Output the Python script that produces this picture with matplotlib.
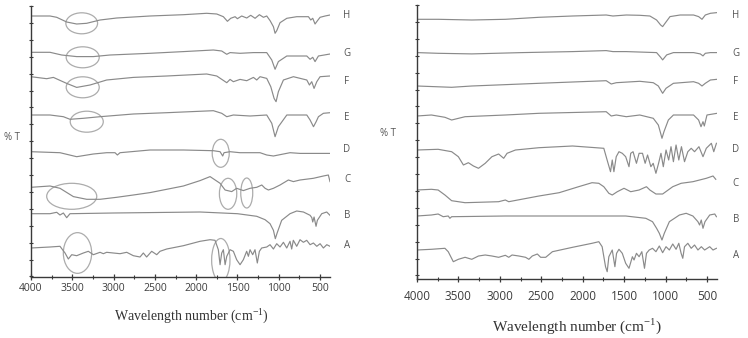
import numpy as np
import matplotlib
matplotlib.use("Agg")
import matplotlib.pyplot as plt
from matplotlib.patches import Ellipse
from matplotlib.ticker import MultipleLocator, FixedLocator

plt.rcParams['font.family'] = ['Open Sans', 'DejaVu Sans']
plt.rcParams['mathtext.fontset'] = 'custom'
plt.rcParams['mathtext.rm'] = 'Liberation Serif'

# ---------------- data: (wavenumber cm-1, relative transmittance) ----------------
labels = ["A", "B", "C", "D", "E", "F", "G", "H"]
x_ticks = [4000, 3500, 3000, 2500, 2000, 1500, 1000, 500]

# left panel
L_H = [(4000, 0), (3770, 0), (3689, -1.3), (3568, -6), (3447, -8), (3326, -7.3), (3164, -4), (2962, -2),
       (2559, 0), (2155, 1.3), (1873, 2.7), (1751, 2), (1671, -0.7), (1622, -5.3), (1582, -2.3), (1529, -0.7),
       (1501, -2.7), (1449, 0), (1388, -2), (1340, 0.7), (1287, -2.3), (1235, 1.3), (1186, -1.3), (1146, 0),
       (1105, -4.7), (1065, -10.7), (1045, -17.3), (1025, -14.7), (985, -6.7), (903, -2.3), (783, -0.7),
       (641, -0.7), (613, -4), (589, -2.3), (561, -8), (532, -4.7), (500, -1.3), (439, 0), (380, 1)]
L_G = [(4000, 0), (3770, 0), (3629, -2.7), (3447, -4.3), (3245, -4.3), (3043, -2.7), (2559, -1), (2155, 0.7),
       (1792, 2.3), (1691, 1.3), (1630, -2), (1590, -0.3), (1469, -1), (1307, -0.3), (1146, -0.3), (1085, -7.7),
       (1045, -17), (1005, -9.3), (903, -3.7), (661, -3.7), (621, -7), (589, -5), (561, -9.3), (520, -3.7),
       (380, -1.7)]
L_F = [(4000, 0), (3810, -2), (3729, -0.7), (3568, -6.7), (3447, -10.7), (3285, -8.3), (3084, -3.3),
       (2761, -0.7), (2357, 0.7), (1873, 2.7), (1751, 0.7), (1630, -6), (1590, -2.7), (1550, -5), (1469, -2.7),
       (1388, -4), (1307, -0.7), (1267, -3.3), (1227, 0), (1146, -1.7), (1097, -10), (1057, -21.7), (1033, -25),
       (1005, -15), (944, -3.3), (823, 0), (661, -3.3), (629, -8.3), (601, -5), (573, -11.7), (540, -5),
       (500, 0), (380, 0.7)]
L_E = [(4000, 0), (3770, 0), (3608, -1.7), (3528, -4.3), (3366, -3.3), (3164, -1.7), (2761, 1), (2357, 2.3),
       (1792, 4.3), (1691, 1.7), (1630, -1.7), (1550, 0), (1348, -1), (1146, 0), (1085, -8.3), (1045, -21.7),
       (1005, -11.7), (903, 0), (661, 0), (621, -5), (580, -11.7), (548, -6.7), (520, -1.7), (460, 1.7),
       (380, 2.3)]
L_D = [(4000, 0), (3649, -1), (3447, -5), (3245, -2.3), (3084, -1), (2983, -1), (2954, -3.3), (2922, -1),
       (2559, 1.7), (2155, 1.7), (1792, 1), (1711, 0), (1679, -4.3), (1663, -1), (1590, 0), (1469, -1),
       (1227, -1), (1146, -3.3), (1065, -4.3), (944, -2.3), (864, -1), (742, -1.7), (380, -1.7)]
L_C = [(4000, 0), (3770, 1.3), (3649, -1), (3487, -9.3), (3326, -12), (3164, -12), (2962, -10), (2761, -7.7),
       (2559, -5.3), (2357, -2), (2155, 1.3), (1953, 6.7), (1832, 10.7), (1711, 4), (1650, -2.7), (1570, -4.3),
       (1510, -1), (1429, -3.3), (1348, -1), (1267, 0), (1206, 2.3), (1166, -1), (1126, -2.7), (1065, -1),
       (985, 2.3), (884, 7.3), (823, 5.7), (743, 7.3), (581, 9), (460, 11.3), (400, 12.3), (380, 5.7)]
L_B = [(4000, -0.7), (3770, -0.7), (3689, 0.7), (3649, -2), (3608, 0), (3568, -4.7), (3528, -0.7), (3000, 0),
       (1953, 1), (1500, -0.7), (1267, -3.3), (1166, -6.7), (1106, -10.7), (1065, -17.3), (1042, -25.7),
       (1020, -20), (965, -7.3), (864, -0.7), (783, 2), (702, 1), (621, -2.3), (600, -4.7), (589, -9),
       (573, -4), (549, -13.3), (533, -7.3), (480, -0.7), (420, 1), (380, -2.3)]
L_A = [(4000, 0), (3770, 1), (3649, 1.7), (3588, -5), (3548, -11), (3507, -6.7), (3447, -7.7), (3366, -5),
       (3306, -3.3), (3245, -6.7), (3164, -4.3), (3124, -5.7), (3084, -4.3), (3003, -5), (2922, -5.7),
       (2841, -4.3), (2761, -7.7), (2680, -9), (2640, -5), (2600, -9), (2539, -3.3), (2478, -6.7), (2438, -3.3),
       (2357, -1), (2155, 2.3), (1953, 6.7), (1832, 8.3), (1772, 7.7), (1732, -1.7), (1711, -16.7), (1691, -5),
       (1671, -1.7), (1650, -16.7), (1630, -8.3), (1590, -1.7), (1550, -3.3), (1510, -11.7), (1469, -16.7),
       (1429, -11.7), (1389, -3.3), (1368, -8.3), (1348, -1.7), (1316, -6.7), (1288, -1.7), (1260, -15),
       (1235, -3.3), (1207, 0), (1146, 1), (1106, 3.3), (1065, -1), (1025, 4.3), (985, 1), (944, 5.7), (904, 0),
       (864, 6.7), (844, -1), (824, 7.7), (783, 1.7), (743, 8.3), (702, 5.7), (662, 7.7), (621, 3.3), (581, 5),
       (540, 1.7), (500, 4.3), (460, 0), (419, 3.3), (380, 1.7)]

# right panel
R_H = [(4000, 0), (3745, 0), (3339, -0.7), (2934, 0), (2528, 2), (2123, 3.3), (1717, 4.3), (1636, 3.3),
       (1474, 4.3), (1312, 4), (1190, 3.3), (1109, -0.7), (1060, -5.7), (1036, -7.3), (1007, -4), (947, 2.7),
       (825, 4.3), (663, 4.3), (602, 2.7), (561, 0), (521, 4.3), (460, 6), (379, 6.7)]
R_G = [(4000, 0), (3745, -0.7), (3339, -1.3), (2731, 0), (2123, 1), (1717, 2), (1636, 1), (1474, 1),
       (1109, 0), (1060, -4.7), (1036, -7.3), (987, -2.3), (906, 0), (663, 0), (582, -1.3), (549, -3.3),
       (521, -0.7), (460, 0), (379, 0)]
R_F = [(4000, 0), (3582, -1.3), (3339, 0), (2528, 2.7), (1717, 5.3), (1656, 2), (1595, 3.3), (1312, 4.7),
       (1149, 3.3), (1088, 0), (1060, -4), (1036, -7.3), (995, -2.3), (906, 2.7), (663, 4.3), (602, 2.7),
       (561, 0), (521, 2.7), (460, 6), (379, 6.7)]
R_E = [(4000, 0), (3826, 1), (3663, -1.3), (3582, -4), (3420, -0.7), (2934, 1), (2528, 2.7), (1717, 4.3),
       (1656, 0), (1595, 1), (1474, -0.7), (1312, 1), (1149, -2.3), (1088, -9), (1060, -17.3), (1044, -22.3),
       (1020, -15.7), (967, -4), (906, 1), (663, 1), (602, -4), (573, -10.7), (549, -5.7), (533, -10),
       (501, 1), (379, 2.7)]
R_D = [(4000, 0), (3745, 0.7), (3582, -1.7), (3501, -6.7), (3440, -15), (3380, -12.7), (3319, -16),
       (3258, -18.3), (3177, -13.3), (3096, -6.7), (3015, -4), (2954, -8.3), (2913, -3.3), (2812, 0),
       (2528, 2.3), (2123, 4), (1746, 1.7), (1706, -10), (1665, -21.7), (1644, -10), (1624, -21.7),
       (1596, -6.7), (1563, -1.7), (1523, -3.3), (1482, -6.7), (1442, -16.7), (1421, -3.3), (1393, -1.7),
       (1352, -13.3), (1320, -3.3), (1279, -3.3), (1247, -13.3), (1218, -5), (1178, -16.7), (1150, -13.3),
       (1117, -23.3), (1085, -13.3), (1056, -3.3), (1028, -16.7), (995, 0), (963, -10), (935, 3.3),
       (906, -11.7), (874, 5), (841, -10), (809, 3.3), (772, -11.7), (732, -1.7), (691, 1.7), (651, -1.7),
       (598, 3.3), (549, -6.7), (509, 1.7), (448, 6.7), (419, -1.7), (387, 6.7)]
R_C = [(4000, 0), (3826, 0.7), (3745, 0), (3663, -5), (3582, -10.7), (3420, -12.7), (3015, -11.7),
       (2934, -10), (2893, -11.7), (2528, -6), (2285, -2.7), (2050, 3.3), (1888, 7.3), (1806, 6.7),
       (1746, 3.3), (1685, -3.3), (1644, -5), (1583, -1.7), (1502, 1.7), (1421, -1.7), (1320, 0), (1231, 3.3),
       (1190, 0), (1117, -4), (1036, -4), (914, 3.3), (813, 6.7), (671, 8.3), (509, 11.7), (428, 14),
       (395, 10.7)]
R_B = [(4000, 0), (3826, 1), (3745, 2), (3684, -0.7), (3623, 0), (3603, -2.3), (3582, -0.7), (2934, 0),
       (2123, 0), (1482, 0), (1239, -2.3), (1158, -5.7), (1109, -12.3), (1076, -17.3), (1044, -24),
       (1016, -17.3), (955, -5.7), (833, 1), (752, 2.7), (671, 0), (610, -5.7), (590, -9), (570, -4),
       (549, -12.3), (525, -5.7), (468, 1), (407, 2), (387, -0.7)]
R_A = [(4000, 0), (3826, 0.7), (3663, 1.7), (3623, -1.7), (3562, -11.7), (3501, -9.3), (3420, -7.3),
       (3339, -9.3), (3258, -6), (3177, -5), (3096, -6), (3015, -7.3), (2934, -5.3), (2893, -7.3), (2853, -5),
       (2771, -6), (2690, -7.3), (2650, -9.3), (2609, -6), (2548, -4), (2508, -7.3), (2447, -7.3), (2366, -1.7),
       (2123, 2.7), (1888, 6.7), (1806, 8.3), (1766, 3.3), (1725, -16.7), (1705, -21.7), (1685, -6.7),
       (1644, 0), (1612, -16.7), (1592, -3.3), (1563, 0.7), (1523, -3.3), (1482, -13.3), (1442, -18.3),
       (1401, -6.7), (1381, -10), (1352, -3.3), (1320, -6.7), (1287, -1.7), (1255, -18.3), (1231, -3.3),
       (1198, 0), (1158, 1.7), (1117, -1.7), (1076, 4), (1036, -2.7), (995, 3.3), (955, 0), (914, 6),
       (874, 0.7), (841, 6.7), (813, -3.3), (793, -8.3), (772, 3.3), (732, 6.7), (691, 1.7), (651, 5), (610, 0),
       (569, 3.3), (529, 0), (468, 3.3), (428, 0), (387, 1.7)]

left_spectra = [L_A, L_B, L_C, L_D, L_E, L_F, L_G, L_H]
right_spectra = [R_A, R_B, R_C, R_D, R_E, R_F, R_G, R_H]

# ---------------- layout / style ----------------
W, H = 748, 338
fig = plt.figure(figsize=(W / 100, H / 100), dpi=100)
line_color = "#8a8a8a"
ell_color = "#acacac"
text_color = "#555555"

left_offsets = [29, 64, 89.7, 125.3, 162, 200.3, 224.7, 261]
left_label_y = [31, 62, 98, 127, 160, 196, 224, 261]
right_offsets = [29.3, 63.3, 89.3, 129.3, 163.3, 193.3, 226.7, 260]
right_label_y = [24.3, 60.3, 96.3, 129.3, 162.3, 197.3, 226.3, 263.3]


def setup(ax, ytop, xfs, pad):
    ax.set_xlim(4000, 380)
    ax.set_ylim(0, ytop)
    for s in ["top", "right"]:
        ax.spines[s].set_visible(False)
    for s in ["left", "bottom"]:
        ax.spines[s].set_color("#3a3a3a")
        ax.spines[s].set_linewidth(1.0)
    ax.xaxis.set_major_locator(FixedLocator(x_ticks))
    ax.set_xticklabels([str(t) for t in x_ticks])
    ax.xaxis.set_minor_locator(MultipleLocator(250))
    ax.yaxis.set_major_locator(FixedLocator(ytop - np.arange(0, ytop, 16.9)))
    ax.set_yticklabels([])
    ax.tick_params(axis="x", which="major", direction="inout", length=5, width=0.9,
                   color="#3a3a3a", labelsize=xfs, labelcolor="#3d3d3d", pad=pad)
    ax.tick_params(axis="x", which="minor", direction="inout", length=3, width=0.8, color="#3a3a3a")
    ax.tick_params(axis="y", which="major", direction="inout", length=3, width=0.8, color="#3a3a3a")


def draw(ax, spectra, offsets, label_y, label_x):
    for spec, off, lab, ly in zip(spectra, offsets, labels, label_y):
        arr = np.array(spec, dtype=float)
        ax.plot(arr[:, 0], arr[:, 1] + off, color=line_color, lw=0.85)
        ax.text(label_x, ly, lab, transform=ax.get_yaxis_transform(), ha="center", va="center",
                fontsize=7, color=text_color)


axL = fig.add_axes([31 / W, 1 - 277 / H, 299 / W, 271 / H])
setup(axL, 271, 7.5, 2)
draw(axL, left_spectra, left_offsets, left_label_y, 1.057)

# highlighting ellipses (centre wn, centre y, width wn, height)
ellipses = [(3386, 253.7, 384, 21), (3374, 219.7, 400, 21), (3374, 189.7, 400, 21), (3325, 155.3, 400, 21),
            (1703, 123.7, 206, 28), (3507, 80.7, 606, 26), (1614, 83.2, 210, 31), (1388, 84, 145, 30),
            (3437, 24, 343, 40.7), (1702, 17, 222, 43)]
for cx, cy, ew, eh in ellipses:
    axL.add_patch(Ellipse((cx, cy), ew, eh, fill=False, edgecolor=ell_color, lw=0.9))

axR = fig.add_axes([417 / W, 1 - 279.3 / H, 300 / W, 274.3 / H])
setup(axR, 274.3, 8.5, 5)
draw(axR, right_spectra, right_offsets, right_label_y, 1.063)

fig.text(4 / W, 1 - 138 / H, "% T", fontsize=7, color=text_color, ha="left", va="center")
fig.text(380 / W, 1 - 133 / H, "% T", fontsize=7, color=text_color, ha="left", va="center")

fig.text(191 / W, 1 - 316 / H, r"Wavelength number (cm$^{\mathrm{-1}}$)", family="Liberation Serif",
         fontsize=10, color="#333333", ha="center", va="center")
fig.text(577 / W, 1 - 326 / H, r"Wavelength number (cm$^{\mathrm{-1}}$)", family="Liberation Serif",
         fontsize=11, color="#333333", ha="center", va="center")

fig.savefig("out.png", dpi=100)
